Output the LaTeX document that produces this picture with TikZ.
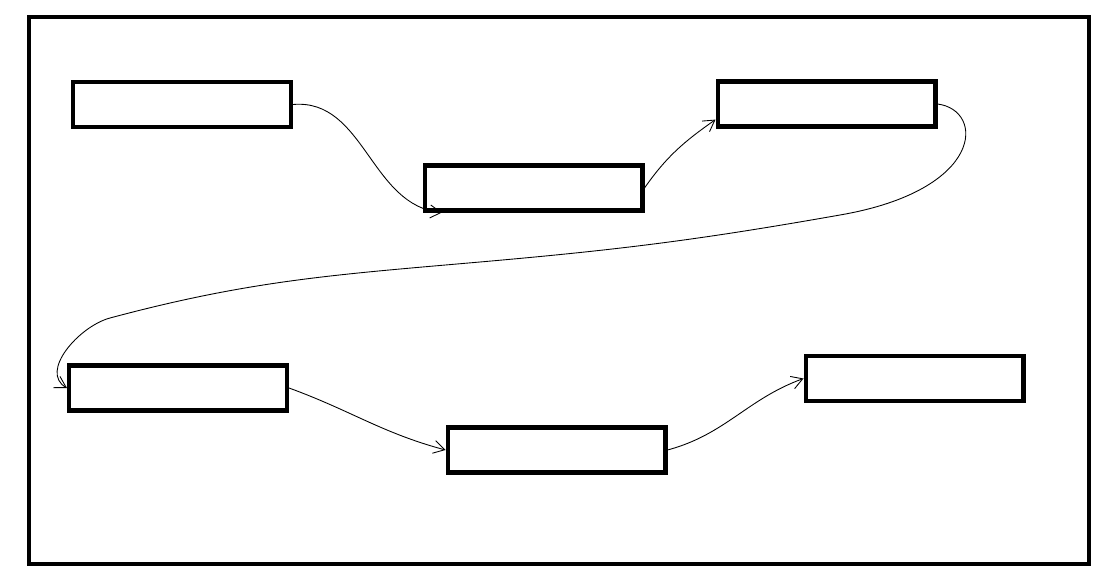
\documentclass[tikz,border=0pt]{standalone}
\usepackage{xcolor,tikz}
\usetikzlibrary{positioning,calc,arrows.meta}

\begin{document}
\begin{tikzpicture}[x=0.02cm, y=-0.02cm]

% --- SIZES (in pixels of the sketch) ---
\def\boxW{4.36cm}
\def\boxH{0.90cm}

\tikzset{
  stagebox/.style={draw=black, line width=2.3pt, minimum width=\boxW,
                   minimum height=\boxH, inner sep=0pt},
  flow/.style={black, line width=0.5pt,
               -{Straight Barb[length=0.22cm, width=0.26cm]}},
}

\useasboundingbox (0,0) rectangle (1114,580);

% --- FRAME ---
\draw[line width=2.3pt] (29,17) rectangle (1089,564);

% --- BOXES ---
\node[stagebox] (s1) at (182,104.5) {};
\node[stagebox] (s2) at (533.5,188) {};
\node[stagebox] (s3) at (826.5,104) {};
\node[stagebox] (s4) at (178,388) {};
\node[stagebox] (s5) at (556.5,450) {};
\node[stagebox] (s6) at (914.5,378.5) {};

% --- CONNECTORS ---
\draw[flow] (s1.east) to[out=5, in=175] (s2.195);
\draw[flow] (s2.east) to[out=55, in=215] (s3.188);
\draw[flow] (s3.east) .. controls (985,110) and (985,190) .. (840,215)
  to[out=190, in=5] (480,262)
  to[out=185, in=15] (110,318)
  to[out=195, in=150] (s4.west);
\draw[flow] (s4.east) to[out=-20, in=165] (s5.west);
\draw[flow] (s5.east) to[out=15, in=200] (s6.west);

\end{tikzpicture}
\end{document}
